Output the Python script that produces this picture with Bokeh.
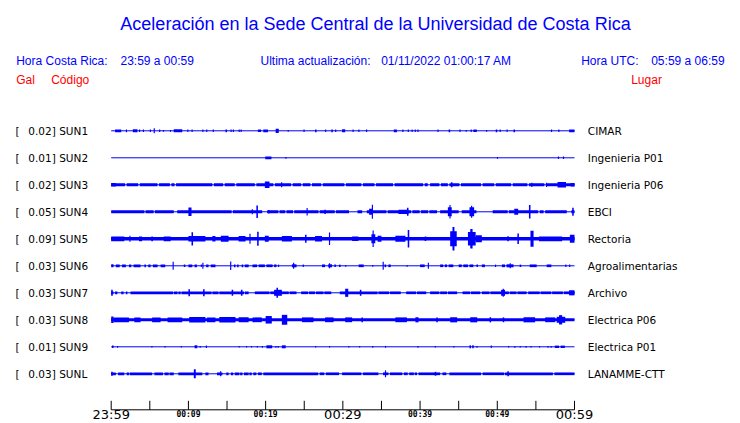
from bokeh.plotting import figure
from bokeh.models import Range1d, ColumnDataSource
from bokeh.core.properties import value
from bokeh.embed import file_html
from bokeh.resources import INLINE

# ---------------- data ----------------
TITLE = "Aceleración en la Sede Central de la Universidad de Costa Rica"
HORA_CR = "23:59 a 00:59"
HORA_UTC = "05:59 a 06:59"
UPDATED = "01/11/2022 01:00:17 AM"

STATIONS = ["SUN1", "SUN2", "SUN3", "SUN4", "SUN5", "SUN6", "SUN7", "SUN8", "SUN9", "SUNL"]
PEAK_GAL = [0.02, 0.01, 0.02, 0.05, 0.09, 0.03, 0.03, 0.03, 0.01, 0.03]
PLACES = ["CIMAR", "Ingenieria P01", "Ingenieria P06", "EBCI", "Rectoria",
          "Agroalimentarias", "Archivo", "Electrica P06", "Electrica P01", "LANAMME-CTT"]
# continuous background band (half amplitude, Gal); 0 = bare trace line
BASE_GAL = [0.0, 0.0, 0.010, 0.010, 0.012, 0.0, 0.009, 0.010, 0.0, 0.009]

# quiet stretches (minutes) where the band drops to the bare trace
SUN3_GAPS = [(1.8, 2.0), (3.5, 3.7), (6.0, 6.2), (7.6, 7.8), (8.2, 8.4), (13.1, 13.3), (14.5, 14.7),
             (16.0, 16.2), (18.6, 18.8), (21.0, 21.2), (23.3, 23.5), (24.6, 24.8), (25.8, 26.0),
             (27.2, 27.4), (30.2, 30.4), (32.4, 32.6), (34.1, 34.3), (36.5, 36.7), (40.4, 40.6),
             (41.0, 41.3), (42.5, 42.7), (43.6, 43.8), (45.1, 45.3), (47.9, 48.1), (49.6, 49.8),
             (51.8, 52.0), (53.9, 54.1), (56.1, 56.3)]
SUN4_GAPS = [(4.3, 4.45), (5.5, 5.65), (8.1, 8.55), (15.6, 15.75), (19.55, 20.2), (21.65, 21.8),
             (22.55, 22.7), (23.55, 23.7), (26.85, 27.0), (28.95, 29.1), (30.8, 31.9), (32.5, 33.1),
             (35.65, 35.8), (38.85, 39.0), (39.95, 40.1), (41.05, 41.2), (42.2, 42.6), (45.0, 45.4),
             (47.3, 49.4), (51.35, 51.5), (55.3, 55.5), (56.0, 56.2), (59.0, 59.6)]
SUN5_GAPS = []
SUN7_GAPS = [(0.3, 0.5), (0.8, 1.3), (1.6, 1.9), (2.1, 2.5), (8.0, 8.1), (8.6, 8.7), (9.0, 9.1),
             (13.0, 13.1), (13.9, 14.0), (17.2, 17.3), (17.8, 18.6), (20.5, 20.6), (23.0, 23.1),
             (24.0, 24.6), (25.5, 25.6), (26.4, 26.5), (27.5, 27.6), (28.5, 29.6), (34.5, 34.6),
             (36.0, 36.1), (37.5, 38.2), (39.5, 39.6), (40.8, 41.3), (42.5, 42.6), (43.5, 43.6),
             (44.8, 45.5), (46.5, 46.6), (47.8, 48.0), (49.0, 49.1), (51.5, 51.6), (52.5, 52.6),
             (53.8, 54.0), (55.5, 55.6), (57.0, 57.1), (58.5, 58.6)]
SUN8_GAPS = []
SUNL_GAPS = [(0.6, 0.9), (1.7, 2.0), (2.3, 2.4), (5.3, 5.6), (6.7, 6.9), (7.45, 7.55), (8.1, 8.7),
             (11.8, 12.2), (12.6, 13.7), (14.4, 14.9), (15.2, 15.5), (15.8, 16.0), (16.6, 16.7),
             (17.0, 17.2), (17.8, 17.9), (18.2, 18.4), (18.8, 19.0), (19.5, 19.7), (26.8, 27.0),
             (27.6, 27.8), (29.5, 29.9), (32.4, 32.6), (34.6, 35.2), (35.9, 36.1), (37.7, 37.9),
             (38.4, 38.6), (39.2, 39.3), (39.6, 39.8), (42.6, 42.9), (43.4, 43.8), (47.9, 48.1),
             (50.9, 51.0), (57.2, 57.4)]

# bursts of shaking: (start minute, end minute, half amplitude in Gal)
SUN1_BURSTS = [(0.5, 1.3, 0.009), (1.9, 2.05, 0.009), (2.8, 3.4, 0.010), (3.6, 3.75, 0.008),
               (4.1, 4.25, 0.008), (5.0, 5.15, 0.008), (5.5, 5.65, 0.017), (6.2, 6.35, 0.008),
               (6.7, 6.85, 0.006), (7.6, 7.75, 0.006), (8.1, 9.2, 0.010), (9.85, 10.0, 0.008),
               (10.4, 10.55, 0.008), (11.8, 11.95, 0.008), (12.3, 12.45, 0.008), (13.15, 13.3, 0.008),
               (14.8, 15.0, 0.009), (15.45, 15.6, 0.008), (15.75, 15.9, 0.008), (16.5, 16.65, 0.008),
               (16.75, 16.9, 0.008), (19.0, 19.4, 0.008), (19.7, 20.3, 0.009), (21.3, 21.7, 0.014),
               (22.85, 23.0, 0.006), (24.9, 25.05, 0.008), (26.4, 26.6, 0.009), (27.7, 27.85, 0.008),
               (28.5, 28.7, 0.009), (29.0, 29.15, 0.008), (29.9, 30.3, 0.010), (31.25, 31.4, 0.008),
               (32.0, 32.15, 0.008), (33.0, 33.15, 0.008), (36.6, 37.0, 0.009), (37.7, 37.85, 0.008),
               (38.4, 38.55, 0.008), (38.9, 39.05, 0.008), (39.3, 39.45, 0.008), (39.65, 39.8, 0.008),
               (42.25, 42.4, 0.008), (43.7, 43.9, 0.009), (45.1, 45.25, 0.008), (45.9, 46.05, 0.006),
               (46.55, 46.7, 0.008), (46.9, 47.35, 0.008), (48.55, 48.7, 0.006), (49.8, 50.0, 0.009),
               (50.3, 50.45, 0.008), (51.2, 51.35, 0.008), (52.1, 52.3, 0.009), (56.95, 57.1, 0.008),
               (57.9, 58.05, 0.008), (59.3, 60.0, 0.009)]
SUN2_BURSTS = [(19.95, 20.75, 0.009), (22.55, 22.7, 0.006), (49.95, 50.1, 0.006),
               (57.85, 58.0, 0.008), (58.5, 58.65, 0.008)]
SUN3_BURSTS = [(0.0, 0.6, 0.012), (19.9, 20.5, 0.022), (22.0, 22.15, 0.017), (44.0, 44.2, 0.017),
               (54.4, 54.55, 0.014), (56.3, 56.45, 0.014), (57.8, 58.9, 0.018), (59.5, 60.0, 0.012)]
SUN4_BURSTS = [(10.0, 10.4, 0.028), (18.2, 18.35, 0.017), (18.8, 19.0, 0.042), (20.3, 20.5, 0.012),
               (25.3, 25.45, 0.025), (27.6, 27.8, 0.014), (33.4, 33.9, 0.020), (33.75, 33.9, 0.047),
               (37.2, 38.5, 0.014), (38.3, 38.5, 0.027), (43.6, 44.1, 0.030), (43.8, 43.95, 0.045),
               (46.4, 47.0, 0.030), (46.6, 46.75, 0.040), (52.2, 52.7, 0.020), (54.1, 54.3, 0.045),
               (59.7, 59.9, 0.027)]
SUN5_BURSTS = [(0.0, 1.7, 0.016), (2.35, 2.5, 0.020), (3.6, 4.0, 0.016), (5.2, 5.4, 0.016),
               (6.8, 7.7, 0.016), (10.0, 12.2, 0.018), (10.4, 10.6, 0.044), (13.1, 13.5, 0.018),
               (14.2, 15.2, 0.020), (16.5, 17.4, 0.018), (17.9, 18.05, 0.033), (18.9, 19.1, 0.047),
               (19.9, 20.4, 0.020), (22.1, 23.4, 0.018), (25.1, 25.3, 0.027), (26.4, 27.3, 0.018),
               (28.2, 28.35, 0.042), (31.2, 32.0, 0.015), (33.7, 34.2, 0.030), (33.85, 34.0, 0.055),
               (34.5, 35.0, 0.020), (36.8, 38.1, 0.020), (38.4, 38.6, 0.058), (40.6, 40.8, 0.015),
               (43.9, 44.75, 0.050), (44.2, 44.45, 0.078), (46.2, 47.2, 0.045), (46.5, 46.8, 0.065),
               (47.2, 48.0, 0.023), (51.3, 51.5, 0.017), (52.6, 52.8, 0.035), (54.3, 54.7, 0.053),
               (55.4, 58.4, 0.016), (59.4, 60.0, 0.027)]
SUN6_BURSTS = [(0.0, 0.3, 0.010), (0.6, 1.1, 0.009), (1.4, 1.9, 0.009), (2.3, 2.6, 0.009),
               (2.9, 3.8, 0.009), (4.3, 4.5, 0.009), (4.8, 5.1, 0.009), (5.4, 6.0, 0.009),
               (6.4, 7.0, 0.009), (7.95, 8.1, 0.027), (9.4, 9.6, 0.008), (10.0, 10.5, 0.009),
               (10.8, 11.1, 0.009), (11.6, 11.75, 0.008), (11.8, 11.95, 0.020), (12.3, 12.6, 0.009),
               (12.9, 13.5, 0.009), (15.4, 15.55, 0.028), (15.9, 16.1, 0.009), (16.3, 16.5, 0.009),
               (16.9, 17.1, 0.009), (17.3, 17.8, 0.009), (18.3, 18.9, 0.009), (19.1, 19.9, 0.009),
               (20.1, 20.9, 0.009), (21.1, 21.4, 0.009), (21.6, 21.75, 0.008), (23.4, 24.0, 0.010),
               (23.55, 23.7, 0.020), (24.8, 24.95, 0.008), (27.3, 27.7, 0.009), (28.1, 28.6, 0.010),
               (28.2, 28.35, 0.017), (28.9, 29.1, 0.008), (29.5, 29.7, 0.008), (30.3, 30.45, 0.006),
               (32.05, 32.7, 0.009), (33.8, 33.95, 0.006), (35.15, 35.3, 0.027), (35.4, 35.6, 0.009),
               (35.9, 36.2, 0.009), (38.25, 38.4, 0.006), (40.0, 40.6, 0.009), (41.0, 41.15, 0.020),
               (42.6, 43.0, 0.009), (43.2, 43.5, 0.009), (43.7, 44.3, 0.009), (45.0, 45.4, 0.009),
               (45.6, 46.2, 0.009), (46.4, 46.9, 0.009), (47.3, 47.5, 0.008), (48.0, 48.4, 0.009),
               (49.7, 49.85, 0.008), (50.6, 51.0, 0.009), (51.2, 52.1, 0.010), (51.6, 51.75, 0.017),
               (52.9, 53.1, 0.008), (54.2, 55.1, 0.009), (56.4, 57.0, 0.009), (58.8, 58.95, 0.008),
               (59.3, 59.45, 0.008)]
SUN7_BURSTS = [(0.0, 0.2, 0.020), (10.0, 10.2, 0.023), (11.9, 12.1, 0.023), (15.6, 15.8, 0.020),
               (16.8, 17.0, 0.020), (21.1, 22.1, 0.020), (21.4, 21.6, 0.033), (30.3, 30.7, 0.027),
               (32.2, 32.4, 0.020), (50.5, 51.0, 0.020), (50.7, 50.85, 0.027), (59.3, 60.0, 0.017)]
SUN8_BURSTS = [(0.0, 0.3, 0.022), (0.3, 2.3, 0.016), (3.0, 3.8, 0.016), (5.3, 6.4, 0.016),
               (7.3, 9.2, 0.016), (10.1, 12.2, 0.018), (12.4, 13.5, 0.016), (14.0, 16.1, 0.018),
               (16.5, 17.8, 0.017), (18.3, 19.5, 0.016), (20.0, 20.8, 0.025), (22.1, 22.8, 0.033),
               (24.7, 26.2, 0.016), (27.7, 28.8, 0.016), (30.3, 31.2, 0.016), (32.4, 32.6, 0.016),
               (36.8, 38.3, 0.016), (39.4, 39.8, 0.017), (42.1, 42.3, 0.016), (43.9, 44.8, 0.017),
               (46.5, 47.4, 0.017), (49.0, 49.2, 0.017), (50.7, 50.9, 0.016), (53.4, 54.9, 0.017),
               (56.2, 57.5, 0.016), (57.7, 58.8, 0.020), (58.0, 58.4, 0.031)]
SUN9_BURSTS = [(0.1, 0.3, 0.008), (0.75, 0.9, 0.006), (5.2, 5.35, 0.005), (6.9, 7.05, 0.005),
               (9.0, 9.15, 0.005), (10.8, 11.15, 0.010), (11.45, 11.6, 0.006), (12.25, 12.4, 0.008),
               (16.5, 16.65, 0.005), (17.45, 17.6, 0.005), (18.1, 18.25, 0.005), (18.85, 19.0, 0.005),
               (19.5, 19.65, 0.006), (20.1, 20.85, 0.010), (21.25, 21.4, 0.006), (21.55, 21.7, 0.006),
               (22.1, 22.6, 0.010), (26.4, 26.55, 0.005), (28.2, 28.35, 0.005), (30.7, 30.85, 0.005),
               (32.1, 32.25, 0.005), (33.8, 33.95, 0.006), (35.45, 35.6, 0.006), (39.65, 39.8, 0.006),
               (41.9, 42.05, 0.005), (44.3, 44.45, 0.005), (46.4, 46.6, 0.010), (46.75, 46.95, 0.010),
               (47.3, 47.45, 0.006), (49.15, 49.3, 0.008), (51.4, 51.55, 0.005), (52.2, 52.35, 0.006),
               (52.9, 53.05, 0.005), (53.65, 53.8, 0.006), (54.3, 54.45, 0.005), (55.4, 55.55, 0.005),
               (56.5, 56.65, 0.006), (56.9, 57.05, 0.006), (57.45, 58.0, 0.008), (58.2, 58.75, 0.008)]
SUNL_BURSTS = [(0.0, 0.2, 0.013), (10.7, 10.95, 0.030), (14.1, 14.25, 0.017), (35.45, 35.6, 0.023),
               (41.9, 42.1, 0.013), (51.3, 51.5, 0.017)]

GAPS = [[], [], SUN3_GAPS, SUN4_GAPS, SUN5_GAPS, [], SUN7_GAPS, SUN8_GAPS, [], SUNL_GAPS]
BURSTS = [SUN1_BURSTS, SUN2_BURSTS, SUN3_BURSTS, SUN4_BURSTS, SUN5_BURSTS,
          SUN6_BURSTS, SUN7_BURSTS, SUN8_BURSTS, SUN9_BURSTS, SUNL_BURSTS]

T_START, T_END = 0, 60                       # minutes after 23:59
TICK_MIN = list(range(0, 61, 5))
LABEL_MIN = [0, 10, 20, 30, 40, 50, 60]
LABEL_TEXT = ["23:59", "00:09", "00:19", "00:29", "00:39", "00:49", "00:59"]
LABEL_BIG = [True, False, False, True, False, False, True]

# ---------------- layout ----------------
W, H = 740, 423
X0_PX, X60_PX = 110.7, 574.0        # pixel position of minute 0 and 60
ROW0_Y, ROW_DY = 130.3, 27.0        # trace centres (pixels from top)
AXIS_Y = 409.3
GAL_PX = 150.0                       # pixels per Gal of half amplitude
MIN_W = 0.14                         # minimum drawn width of a burst (minutes)
BASE_SHIFT = 0.34                    # text baseline correction (fraction of font size)
BLUE = "#0000ff"
RED = "#ff0000"

k = (X60_PX - X0_PX) / (T_END - T_START)
p = figure(width=W, height=H, output_backend="svg", toolbar_location=None,
           x_range=Range1d(T_START - X0_PX / k, T_START + (W - X0_PX) / k),
           y_range=Range1d(H, 0), x_axis_type=None, y_axis_type=None, min_border=0)
p.extra_x_ranges = {"px": Range1d(0, W)}
p.outline_line_color = None
p.background_fill_color = "white"
p.border_fill_color = "white"

row_y = [ROW0_Y + i * ROW_DY for i in range(len(STATIONS))]

# bare trace lines
p.segment(x0=[T_START] * len(row_y), x1=[T_END] * len(row_y), y0=row_y, y1=row_y,
          line_color=BLUE, line_width=1)

# bands and bursts as filled boxes
L, R, T, B = [], [], [], []
for i, y in enumerate(row_y):
    base = BASE_GAL[i]
    if base > 0:
        edges = [T_START]
        for g0, g1 in sorted(GAPS[i]):
            edges += [g0, g1]
        edges.append(T_END)
        for a, b in zip(edges[0::2], edges[1::2]):
            if b > a:
                L.append(a); R.append(b)
                T.append(y - base * GAL_PX); B.append(y + base * GAL_PX)
    for s, e, amp in BURSTS[i]:
        if e - s < MIN_W:
            c = (s + e) / 2
            s, e = c - MIN_W / 2, c + MIN_W / 2
        L.append(max(s, T_START)); R.append(min(e, T_END))
        T.append(y - amp * GAL_PX); B.append(y + amp * GAL_PX)
p.quad(source=ColumnDataSource(dict(left=L, right=R, top=T, bottom=B)),
       left="left", right="right", top="top", bottom="bottom",
       fill_color=BLUE, line_color=None)

# time axis
p.segment(x0=[T_START], x1=[T_END], y0=[AXIS_Y], y1=[AXIS_Y], line_color="black", line_width=1)
p.segment(x0=TICK_MIN, x1=TICK_MIN, y0=[AXIS_Y] * len(TICK_MIN), y1=[AXIS_Y - 9] * len(TICK_MIN),
          line_color="black", line_width=1)
big_x = [m for m, b in zip(LABEL_MIN, LABEL_BIG) if b]
big_t = [t for t, b in zip(LABEL_TEXT, LABEL_BIG) if b]
sm_x = [m for m, b in zip(LABEL_MIN, LABEL_BIG) if not b]
sm_t = [t for t, b in zip(LABEL_TEXT, LABEL_BIG) if not b]
p.text(x=big_x, y=[AXIS_Y + 9.2 - BASE_SHIFT * 13] * len(big_x), text=big_t, text_align="center",
       text_baseline="alphabetic", text_font=value("DejaVu Sans"), text_font_size=value("13px"),
       text_color="black")
p.text(x=sm_x, y=[AXIS_Y + 7.4 - BASE_SHIFT * 8] * len(sm_x), text=sm_t, text_align="center",
       text_baseline="alphabetic", text_font=value("DejaVu Sans Mono"), text_font_size=value("8px"),
       text_font_style="bold", text_color="black")


def label(x, y, txt, color, size, font="Liberation Sans", align="left"):
    p.text(x=[x], y=[y - BASE_SHIFT * size], text=[txt], x_range_name="px", text_align=align,
           text_baseline="alphabetic", text_font=value(font), text_font_size=value(f"{size}px"),
           text_color=color)


# header
label(375, 29.3, TITLE, BLUE, 18, align="center")
label(15.7, 65, "Hora Costa Rica:", BLUE, 12)
label(120, 65, HORA_CR, BLUE, 12)
label(260, 65, "Ultima actualización:", BLUE, 12)
label(380.7, 65, UPDATED, BLUE, 12)
label(580.7, 65, "Hora UTC:", BLUE, 12)
label(650.7, 65, HORA_UTC, BLUE, 12)
label(15.7, 84, "Gal", RED, 12)
label(50.7, 84, "Código", RED, 12)
label(630.7, 84, "Lugar", RED, 12)

# station labels
FS = 10.5
ty = [y + 3.8 - BASE_SHIFT * FS for y in row_y]
n = len(STATIONS)
common = dict(x_range_name="px", text_baseline="alphabetic", text_font=value("DejaVu Sans"),
              text_font_size=value(f"{FS}px"), text_color="black")
p.text(x=[15] * n, y=ty, text=["["] * n, text_align="left", **common)
p.text(x=[55.3] * n, y=ty, text=[f"{g:.2f}]" for g in PEAK_GAL], text_align="right", **common)
p.text(x=[58.7] * n, y=ty, text=STATIONS, text_align="left", **common)
p.text(x=[587.3] * n, y=ty, text=PLACES, text_align="left", **common)

open("out.html", "w").write(file_html(p, INLINE))
